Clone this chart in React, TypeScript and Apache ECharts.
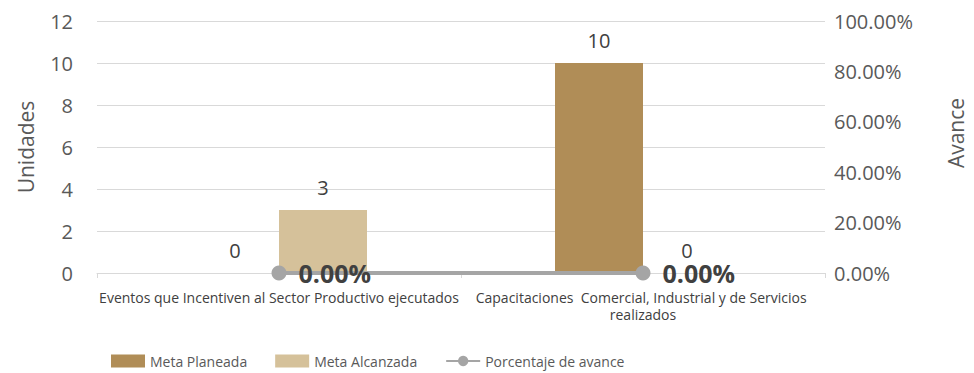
import React, { useEffect, useRef } from "react";
import * as echarts from "echarts";

const categories = [
  "Eventos que Incentiven al Sector Productivo ejecutados",
  "Capacitaciones  Comercial, Industrial y de Servicios realizados",
];
const metaPlaneada = [0, 10];
const metaAlcanzada = [3, 0];
const porcentajeAvance = [0, 0];

const FONT = "'Open Sans', 'Noto Sans', sans-serif";

export default function App() {
  const ref = useRef<HTMLDivElement>(null);
  useEffect(() => {
    if (!ref.current) return;
    const chart = echarts.init(ref.current, undefined, { renderer: "svg" });
    const pct = (v: number) => (v * 100).toFixed(2) + "%";
    chart.setOption({
      animation: false,
      textStyle: { fontFamily: FONT },
      grid: { left: 97, right: 145, top: 21, bottom: 100 },
      legend: {
        left: 106,
        top: 349,
        itemWidth: 34,
        itemHeight: 13,
        itemGap: 28,
        textStyle: { fontSize: 14, color: "#595959", fontFamily: FONT },
        data: [
          { name: "Meta Planeada", icon: "rect" },
          { name: "Meta Alcanzada", icon: "rect" },
          { name: "Porcentaje de avance" },
        ],
      },
      xAxis: {
        type: "category",
        data: categories,
        axisLine: { lineStyle: { color: "#D9D9D9", width: 1 } },
        axisTick: { show: true, length: 5, lineStyle: { color: "#D9D9D9" } },
        axisLabel: {
          interval: 0,
          fontSize: 14,
          color: "#404040",
          width: 372,
          overflow: "break",
          lineHeight: 17,
          margin: 16,
          fontFamily: FONT,
        },
      },
      yAxis: [
        {
          type: "value",
          min: 0,
          max: 12,
          interval: 2,
          name: "Unidades",
          nameLocation: "middle",
          nameRotate: 90,
          nameGap: 61,
          nameTextStyle: { fontSize: 21, color: "#595959", fontFamily: FONT },
          axisLine: { show: false },
          axisTick: { show: false },
          axisLabel: { fontSize: 20, color: "#595959", margin: 24, fontFamily: FONT },
          splitLine: { lineStyle: { color: "#D9D9D9", width: 1 } },
        },
        {
          type: "value",
          min: 0,
          max: 1,
          interval: 0.2,
          name: "Avance",
          nameLocation: "middle",
          nameRotate: 90,
          nameGap: 120,
          nameTextStyle: { fontSize: 21, color: "#595959", fontFamily: FONT, padding: [0, 0, 0, 28] },
          axisLine: { show: false },
          axisTick: { show: false },
          axisLabel: {
            fontSize: 20,
            color: "#595959",
            margin: 9,
            fontFamily: FONT,
            formatter: (v: number) => pct(v),
          },
          splitLine: { show: false },
        },
      ],
      series: [
        {
          name: "Meta Planeada",
          type: "bar",
          data: metaPlaneada,
          barWidth: 88,
          barGap: "0%",
          itemStyle: { color: "#B08D57" },
          label: {
            show: true,
            position: "top",
            distance: 13,
            fontSize: 20,
            color: "#404040",
            fontFamily: FONT,
          },
        },
        {
          name: "Meta Alcanzada",
          type: "bar",
          data: metaAlcanzada,
          barWidth: 88,
          barGap: "0%",
          itemStyle: { color: "#D5C19A" },
          label: {
            show: true,
            position: "top",
            distance: 13,
            fontSize: 20,
            color: "#404040",
            fontFamily: FONT,
          },
        },
        {
          name: "Porcentaje de avance",
          type: "line",
          yAxisIndex: 1,
          data: porcentajeAvance,
          symbol: "circle",
          symbolSize: 15,
          itemStyle: { color: "#A5A5A5" },
          lineStyle: { color: "#A5A5A5", width: 4 },
          z: 3,
          label: {
            show: true,
            position: "right",
            distance: 12,
            fontSize: 25,
            fontWeight: "bold",
            color: "#404040",
            fontFamily: FONT,
            formatter: (p: any) => pct(p.value),
          },
        },
      ],
    });
    return () => chart.dispose();
  }, []);
  return <div ref={ref} style={{ width: 974, height: 373, position: "absolute", left: 0, top: 0 }} />;
}
